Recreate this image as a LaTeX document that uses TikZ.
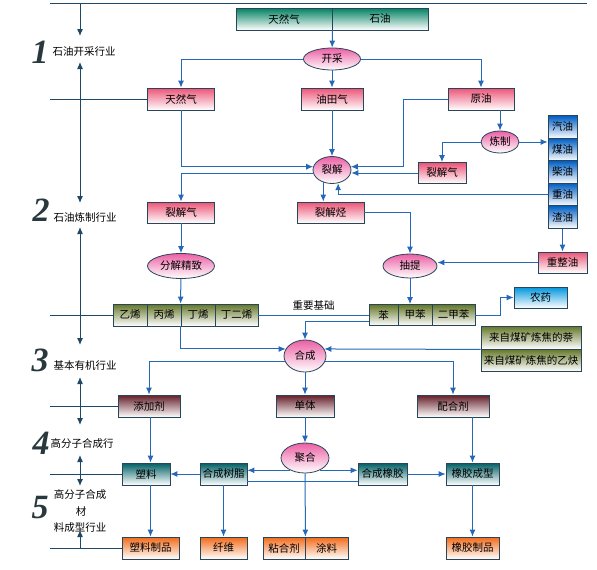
\documentclass[tikz,border=0pt]{standalone}
\usepackage{fontspec}
\setmainfont{Noto Sans CJK SC}
\newfontfamily\numfont{Liberation Serif}
\usepackage{tikz}
\usetikzlibrary{arrows.meta}
\usetikzlibrary{shapes.geometric}
\usetikzlibrary{calc}

\definecolor{flowblue}{RGB}{38,104,184}
\definecolor{sidenavy}{RGB}{30,72,104}
\definecolor{edge}{RGB}{40,70,90}
\definecolor{numgray}{RGB}{40,56,60}
\definecolor{pinkA}{RGB}{236,84,118}
\definecolor{pinkE}{RGB}{236,96,164}
\definecolor{greenA}{RGB}{0,128,96}
\definecolor{oliveA}{RGB}{100,118,40}
\definecolor{blueA}{RGB}{0,94,196}
\definecolor{cyanA}{RGB}{0,150,222}
\definecolor{maroonA}{RGB}{100,30,40}
\definecolor{tealA}{RGB}{0,94,100}
\definecolor{orangeA}{RGB}{242,106,24}

\begin{document}
\begin{tikzpicture}[x=1pt, y=-1pt, font=\fontsize{10.5}{12}\selectfont]
    \tikzstyle{bx}=[draw=edge, line width=0.8pt, inner sep=0.5pt, minimum height=22pt]
    \tikzstyle{pk}=[bx, top color=pinkA, bottom color=white]
    \tikzstyle{gr}=[bx, top color=greenA, bottom color=white]
    \tikzstyle{ol}=[bx, top color=oliveA, bottom color=white]
    \tikzstyle{bl}=[bx, top color=blueA, bottom color=white]
    \tikzstyle{cy}=[bx, top color=cyanA, bottom color=white]
    \tikzstyle{mr}=[bx, top color=maroonA, bottom color=white]
    \tikzstyle{tl}=[bx, top color=tealA, bottom color=white]
    \tikzstyle{og}=[bx, top color=orangeA, bottom color=white]
    \tikzstyle{ov}=[draw=edge, line width=0.8pt, ellipse, inner sep=0pt, top color=pinkE, bottom color=white]
    \tikzstyle{flow}=[draw=flowblue, line width=1pt, -{Latex[length=7pt,width=6pt]}]
    \tikzstyle{side}=[draw=sidenavy, line width=1pt]
    \tikzstyle{num}=[font=\numfont\fontsize{34}{34}\selectfont\bfseries\itshape, text=numgray]
    \useasboundingbox (0,0) rectangle (597,570);

    % sidebar
    \coordinate (t0) at (50,3);
    \coordinate (t1) at (587,3);
    \draw[side] (t0) -- (t1);
    \node[num] (n1) at (40,52) {1};
    \node (l1) at (84,52) {石油开采行业};
    \node[num] (n2) at (41,210) {2};
    \node (l2) at (85,218) {石油炼制行业};
    \node[num] (n3) at (40,360) {3};
    \node (l3) at (85,366) {基本有机行业};
    \node[num] (n4) at (41,443) {4};
    \node (l4) at (82,444) {高分子合成行};
    \node[num] (n5) at (40,508) {5};
    \node[inner sep=0pt] (l5a) at (80,495) {高分子合成};
    \node[inner sep=0pt] (l5b) at (81,511) {材};
    \node[inner sep=0pt] (l5c) at (80,528) {料成型行业};
    \coordinate (a0) at (80,3);
    \coordinate (a1) at (80,36);
    \coordinate (a2) at (80,62);
    \coordinate (a3) at (80,203);
    \coordinate (a4) at (80,227);
    \coordinate (a5) at (80,345);
    \coordinate (a6) at (80,377);
    \coordinate (a7) at (80,425);
    \coordinate (a8) at (80,455);
    \coordinate (a9) at (80,486);
    \coordinate (a10) at (80,530);
    \coordinate (a11) at (80,549);
    \draw[side, -{Latex[length=7pt,width=6pt]}] (a0) -- (a1);
    \foreach \i/\j in {a2/a3, a4/a5, a6/a7, a8/a9}
    {\draw[side, {Latex[length=7pt,width=6pt]}-{Latex[length=7pt,width=6pt]}] (\i) -- (\j);}
    \draw[side, -{Latex[length=7pt,width=6pt]}] (a11) -- (a10);

    % nodes
    \node[gr, minimum width=96pt] (tq) at (284,19) {天然气};
    \node[gr, minimum width=96pt] (sy) at (380,19) {石油};
    \node[ov, minimum width=57pt, minimum height=22pt] (kc) at (332,59) {开采};
    \node[pk, minimum width=67pt] (trq) at (181,99) {天然气};
    \node[pk, minimum width=62pt] (ytq) at (332,99) {油田气};
    \node[pk, minimum width=66pt] (yy) at (481,99) {原油};
    \node[ov, minimum width=38pt, minimum height=27pt] (lj) at (332,170) {裂解};
    \node[ov, minimum width=38pt, minimum height=22pt] (lz) at (500,142) {炼制};
    \node[pk, minimum width=48pt, minimum height=21pt] (ljq2) at (442,173) {裂解气};
    \foreach \n/\t/\y in {f1/汽油/127, f2/煤油/149.5, f3/柴油/172, f4/重油/194.5, f5/渣油/217}
    {\node[bl, minimum width=29pt, minimum height=22.5pt] (\n) at (562.5,\y) {\t};}
    \node[pk, minimum width=49pt, minimum height=21pt] (zzy) at (562.5,262.5) {重整油};
    \node[pk, minimum width=67pt, minimum height=21pt] (ljq) at (181,212.5) {裂解气};
    \node[pk, minimum width=67pt, minimum height=21pt] (ljt) at (330.5,212.5) {裂解烃};
    \node[ov, minimum width=67pt, minimum height=25pt] (fj) at (181,266) {分解精致};
    \node[ov, minimum width=54pt, minimum height=24pt] (ct) at (410,266) {抽提};
    \foreach \n/\t/\x/\w in {e1/乙烯/130/34, e2/丙烯/164/34, e3/丁烯/198/34, e4/丁二烯/236.5/43}
    {\node[ol, minimum width=\w pt] (\n) at (\x,315) {\t};}
    \foreach \n/\t/\x/\w in {b1/苯/383.5/29, b2/甲苯/415/34, b3/二甲苯/453.5/43}
    {\node[ol, minimum width=\w pt, minimum height=21pt] (\n) at (\x,315) {\t};}
    \node[cy, minimum width=53pt, minimum height=21pt] (ny) at (540.5,297.5) {农药};
    \node[ol, minimum width=100pt, minimum height=23pt] (nai) at (531,337.5) {来自煤矿炼焦的萘};
    \node[ol, minimum width=100pt, minimum height=22pt] (yq) at (531,360) {来自煤矿炼焦的乙炔};
    \node[ov, minimum width=42pt, minimum height=32pt] (hc) at (305,356) {合成};
    \node[mr, minimum width=62pt] (tjj) at (149,406) {添加剂};
    \node[mr, minimum width=58pt] (dt) at (305,406) {单体};
    \node[mr, minimum width=72pt] (phj) at (453,406) {配合剂};
    \node[ov, minimum width=48pt, minimum height=30pt] (jh) at (305,458) {聚合};
    \node[tl, minimum width=48pt] (sl) at (146,474) {塑料};
    \node[tl, minimum width=47pt] (hcsz) at (223.5,474) {合成树脂};
    \node[tl, minimum width=49pt] (hcxj) at (382.5,474) {合成橡胶};
    \node[tl, minimum width=53pt] (xjcx) at (472.5,474) {橡胶成型};
    \node[og, minimum width=57pt] (slzp) at (150.5,548) {塑料制品};
    \node[og, minimum width=47pt] (xw) at (223.5,548) {纤维};
    \node[og, minimum width=42pt] (nhj) at (284,548) {粘合剂};
    \node[og, minimum width=43pt] (tul) at (326.5,548) {涂料};
    \node[og, minimum width=53pt] (xjzp) at (472.5,548) {橡胶制品};
    \coordinate (k1) at (403,99);
    \coordinate (k2) at (500,315);

    % sidebar branches
    \foreach \n in {trq, e1, tjj, sl, slzp}
    {\draw[side] (\n.west) -- (\n.west -| t0);}

    % flow
    \draw[flow] (tq.south east) -- (kc);
    \draw[flow] (kc) -| (trq);
    \draw[flow] (kc) -| (yy);
    \draw[flow] (trq) |- (lj.170);
    \draw[flow] (lj.190) -| (ljq);
    \draw[flow] (yy) -- (k1) |- (lj.10);
    \draw[flow] (ljq2) -- (ljq2 -| lj.east);
    \draw[flow] (yy.south -| lz) -- (lz);
    \draw[flow] (lz) -| (ljq2);
    \draw[flow] (lz) -- (lz -| f1.west);
    \draw[flow] (f4) -| (lj.295);
    \draw[flow] (lj.235) -- (lj.235 |- ljt.north);
    \draw[flow] (ljt) -| (ct);
    \draw[flow] (zzy) -- (zzy -| ct.east);
    \draw[flow] (e3.south west) |- (hc.160);
    \draw[flow, -] (e4) -- node[above=1pt, text=black]{重要基础} (b1);
    \draw[flow] (ct) -- (ct |- b2.north);
    \draw[flow] (b3) -- (k2) |- (ny);
    \draw[flow] ([yshift=4pt]b1.south west) -| (hc);
    \draw[flow] (nai.south west) -- (hc.20);
    \draw[flow] (hc.195) -| (tjj);
    \draw[flow] (hc.345) -| (phj);
    \draw[flow] (tjj.south -| slzp) -- (sl.north -| slzp);
    \draw[flow] (sl.south -| slzp) -- (slzp);
    \draw[flow] (phj.south -| xjcx) -- (xjcx);
    \draw[flow] (jh.220) -- (jh.220 -| hcsz.east);
    \draw[flow] (jh.320) -- (jh.320 -| hcxj.west);
    \draw[flow, -] ([yshift=-7pt]hcsz.east) -- ([yshift=-7pt]hcxj.west);
    \foreach \i/\j in {kc/ytq, ytq/lj, f5/zzy, ljq/fj, hc/dt, dt/jh, hcxj/xjcx, hcsz/sl, hcsz/xw, xjcx/xjzp}
    {\draw[flow] (\i) -- (\j);}
    \draw[flow] (fj) -- (e3.north west);
    \draw[flow] (jh) -- (nhj.north east);
\end{tikzpicture}
\end{document}
